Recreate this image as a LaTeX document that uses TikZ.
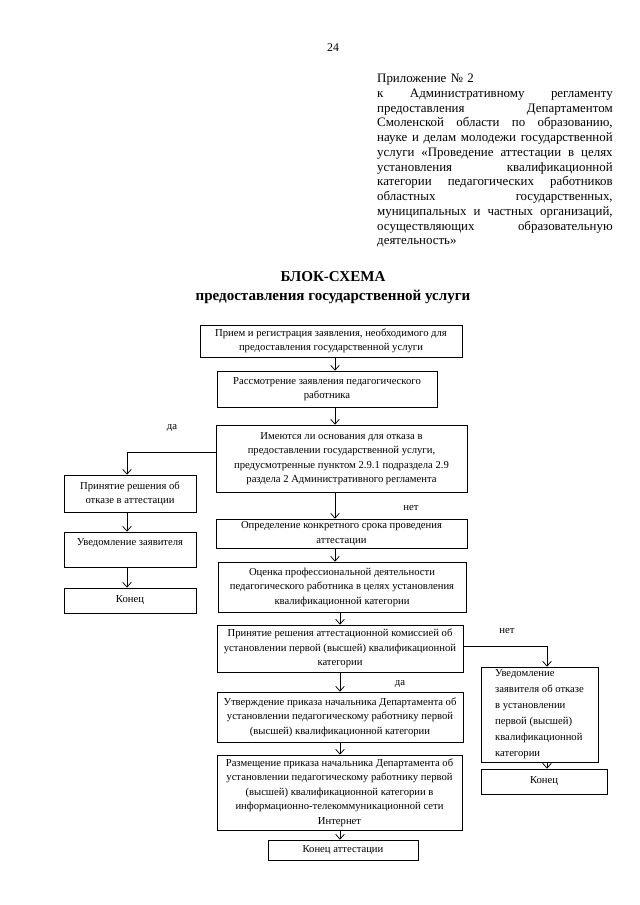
\documentclass[tikz,border=0pt]{standalone}
\usepackage{fontspec}
\setmainfont{Liberation Serif}
\usetikzlibrary{arrows.meta}
\newcommand\jln[1]{\hbox to 219pt{#1}}
\newcommand\bxnode[6][]{\node[box,#1,minimum width={(#4-#2)*0.93pt},minimum height={(#5-#3)*0.93pt}] (#6) at ({(#2+#4)/2},{(#3+#5)/2})}
\begin{document}
\begin{tikzpicture}[x=0.93pt,y=-0.93pt,
  box/.style={draw, line width=0.55pt, inner sep=0pt, align=center, font=\fontsize{9.9}{13.5}\selectfont},
  arr/.style={line width=0.7pt, -{Straight Barb[length=4.5pt,width=8pt]}},
  lbl/.style={font=\fontsize{10}{12}\selectfont, inner sep=0pt}]
\useasboundingbox (0,0) rectangle (640,905);

\node[font=\fontsize{11}{13}\selectfont, inner sep=0pt] (pg) at (333,48) {24};

\node[anchor=north west, inner sep=0pt, text width=219pt, font=\fontsize{12}{13.7}\selectfont] (hdr) at (377,74) {%
Приложение № 2\par
\jln{к\hfill Административному\hfill регламенту}\par
\jln{предоставления\hfill Департаментом}\par
\jln{Смоленской\hfill области\hfill по\hfill образованию,}\par
\jln{науке\hfill и\hfill делам\hfill молодежи\hfill государственной}\par
\jln{услуги\hfill «Проведение\hfill аттестации\hfill в\hfill целях}\par
\jln{установления\hfill квалификационной}\par
\jln{категории\hfill педагогических\hfill работников}\par
\jln{областных\hfill государственных,}\par
\jln{муниципальных\hfill и\hfill частных\hfill организаций,}\par
\jln{осуществляющих\hfill образовательную}\par
деятельность»};

\node[font=\fontsize{14}{18}\selectfont\bfseries, inner sep=0pt] (t1) at (333,277) {БЛОК-СХЕМА};
\node[font=\fontsize{14}{18}\selectfont\bfseries, inner sep=0pt] (t2) at (333,297) {предоставления государственной услуги};

\bxnode{200}{325}{462}{357}{b1} {Прием и регистрация заявления, необходимого для\\ предоставления государственной услуги};
\bxnode{217}{371}{437}{407}{b2} {Рассмотрение заявления педагогического\\ работника};
\bxnode{216}{425}{467}{492}{b3} {Имеются ли основания для отказа в\\ предоставлении государственной услуги,\\ предусмотренные пунктом 2.9.1 подраздела 2.9\\ раздела 2 Административного регламента};
\bxnode{64}{475}{196}{512}{b4} {Принятие решения об\\ отказе в аттестации};
\bxnode{64}{532}{196}{567}{b5} {Уведомление заявителя\\ \mbox{}};
\bxnode{64}{588}{196}{613}{b6} {Конец};
\bxnode{216}{519}{467}{548}{b7} {Определение конкретного срока проведения\\ аттестации};
\bxnode{218}{562}{466}{612}{b8} {Оценка профессиональной деятельности\\ педагогического работника в целях установления\\ квалификационной категории};
\bxnode{217}{625}{463}{672}{b9} {Принятие решения аттестационной комиссией об\\ установлении первой (высшей) квалификационной\\ категории};
\bxnode[align=left, font=\fontsize{9.9}{14.9}\selectfont, text depth=3pt]{481}{667}{598}{762}{b10} {Уведомление\\ заявителя об отказе\\ в установлении\\ первой (высшей)\\ квалификационной\\ категории};
\bxnode{481}{769}{607}{794}{b11} {Конец};
\bxnode{217}{692}{463}{742}{b12} {Утверждение приказа начальника Департамента об\\ установлении педагогическому работнику первой\\ (высшей) квалификационной категории};
\bxnode{217}{755}{462}{830}{b13} {Размещение приказа начальника Департамента об\\ установлении педагогическому работнику первой\\ (высшей) квалификационной категории в\\ информационно-телекоммуникационной сети\\ Интернет};
\bxnode{268}{840}{418}{860}{b14} {Конец аттестации};

\node[lbl] (da1) at (172,428) {да};
\node[lbl] (net1) at (411,508) {нет};
\node[lbl] (net2) at (507,631) {нет};
\node[lbl] (da2) at (400,684) {да};

\coordinate (ax) at (335,0);
\coordinate (bx) at (340,0);
\coordinate (lx) at (127,452);
\coordinate (rx) at (547,646);

\draw[arr] (b1.south -| ax) -- (b2.north -| ax);
\draw[arr] (b2.south -| ax) -- (b3.north -| ax);
\draw[arr] (b3.south -| ax) -- (b7.north -| ax);
\draw[arr] (b7.south -| ax) -- (b8.north -| ax);
\draw[arr] (b8.south -| bx) -- (b9.north -| bx);
\draw[arr] (b9.south -| bx) -- (b12.north -| bx);
\draw[arr] (b12.south -| bx) -- (b13.north -| bx);
\draw[arr] (b13.south -| bx) -- (b14.north -| bx);

\draw[arr] (lx -| b3.west) -- (lx) -- (b4.north -| lx);
\draw[arr] (b4.south -| lx) -- (b5.north -| lx);
\draw[arr] (b5.south -| lx) -- (b6.north -| lx);

\draw[arr] (rx -| b9.east) -- (rx) -- (b10.north -| rx);
\draw[arr] (b10.south -| rx) -- (b11.north -| rx);
\end{tikzpicture}
\end{document}
